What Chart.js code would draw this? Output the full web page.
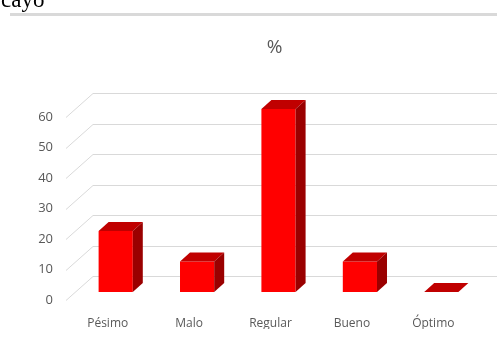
<!DOCTYPE html>
<html>
<head>
<meta charset="utf-8">
<script src="https://cdn.jsdelivr.net/npm/chart.js@4"></script>
<style>
  body { margin: 0; background: #fff; }
  #wrap { position: relative; width: 497px; height: 345px; overflow: hidden; }
  #doc-text {
    position: absolute; left: 1px; top: -11px;
    font: 23px/22px "Liberation Serif", serif; color: #000;
  }
  #doc-rule {
    position: absolute; left: 10px; right: 0; top: 13px; height: 3px;
    background: #d9d9d9;
  }
  canvas { position: absolute; left: 0; top: 0; }
</style>
</head>
<body>
<div id="wrap">
  <canvas id="chart" width="497" height="345"></canvas>
  <div id="doc-text">cayo</div>
  <div id="doc-rule"></div>
</div>
<script>
"use strict";

// data -------------------------------------------
const categories = ["Pésimo", "Malo", "Regular", "Bueno", "Óptimo"];
const percentValues = [20, 10, 60, 10, 0];
const yTicks = [0, 10, 20, 30, 40, 50, 60];
const chartTitle = "%";

const textColor = "#595959";
const gridColor = "#d9d9d9";
const frontColor = "#ff0000";
const topColor = "#c00000";
const sideColor = "#9a0000";

Chart.defaults.font.family = "'Open Sans', sans-serif";
Chart.defaults.color = textColor;

// 3D look: back wall + diagonals, then top/side faces of the bars
const fake3d = {
  id: "fake3d",
  beforeDatasetsDraw(chart) {
    const ctx = chart.ctx;
    const area = chart.chartArea;
    const y = chart.scales.y;
    ctx.save();
    ctx.strokeStyle = gridColor;
    ctx.lineWidth = 1;
    yTicks.forEach(function (v) {
      const py = Math.round(y.getPixelForValue(v)) + 0.5;
      ctx.beginPath();
      ctx.moveTo(area.left - 9, py + 8);
      ctx.lineTo(area.left + 18, py - 16);
      ctx.lineTo(chart.width, py - 16);
      ctx.stroke();
    });
    // title
    ctx.fillStyle = textColor;
    ctx.font = "19px 'Open Sans', sans-serif";
    ctx.textAlign = "center";
    ctx.textBaseline = "middle";
    ctx.fillText(chartTitle, (area.left + area.right) / 2 - 4, 48);
    ctx.restore();
  },
  afterDatasetsDraw(chart) {
    const ctx = chart.ctx;
    const dx = 10;
    const dy = 9;
    ctx.save();
    chart.getDatasetMeta(0).data.forEach(function (bar) {
      const p = bar.getProps(["x", "y", "base", "width"], true);
      const l = p.x - p.width / 2;
      const r = p.x + p.width / 2;
      // top
      ctx.fillStyle = topColor;
      ctx.beginPath();
      ctx.moveTo(l, p.y);
      ctx.lineTo(r, p.y);
      ctx.lineTo(r + dx, p.y - dy);
      ctx.lineTo(l + dx, p.y - dy);
      ctx.closePath();
      ctx.fill();
      // side
      if (p.base - p.y > 0.5) {
        ctx.fillStyle = sideColor;
        ctx.beginPath();
        ctx.moveTo(r, p.y);
        ctx.lineTo(r + dx, p.y - dy);
        ctx.lineTo(r + dx, p.base - dy);
        ctx.lineTo(r, p.base);
        ctx.closePath();
        ctx.fill();
      }
    });
    ctx.restore();
  },
};

new Chart(document.getElementById("chart"), {
  type: "bar",
  data: {
    labels: categories,
    datasets: [
      {
        data: percentValues,
        backgroundColor: frontColor,
        borderWidth: 0,
        categoryPercentage: 1,
        barPercentage: 0.42,
      },
    ],
  },
  options: {
    responsive: false,
    animation: false,
    layout: {
      padding: { top: 109, left: 38, right: 15, bottom: 16 },
    },
    scales: {
      x: {
        grid: { display: false, drawTicks: false },
        border: { display: false },
        ticks: {
          padding: 24,
          labelOffset: -8,
          maxRotation: 0,
          font: { size: 12 },
        },
        afterFit: function (scale) {
          scale.height = 37;
        },
      },
      y: {
        min: 0,
        max: 60,
        grid: { display: false, drawTicks: false },
        border: { display: false },
        ticks: {
          stepSize: 10,
          padding: 22,
          labelOffset: 8,
          font: { size: 13 },
        },
        afterFit: function (scale) {
          scale.width = 37;
        },
      },
    },
    plugins: {
      legend: { display: false },
      tooltip: { enabled: false },
    },
  },
  plugins: [fake3d],
});
</script>
</body>
</html>
